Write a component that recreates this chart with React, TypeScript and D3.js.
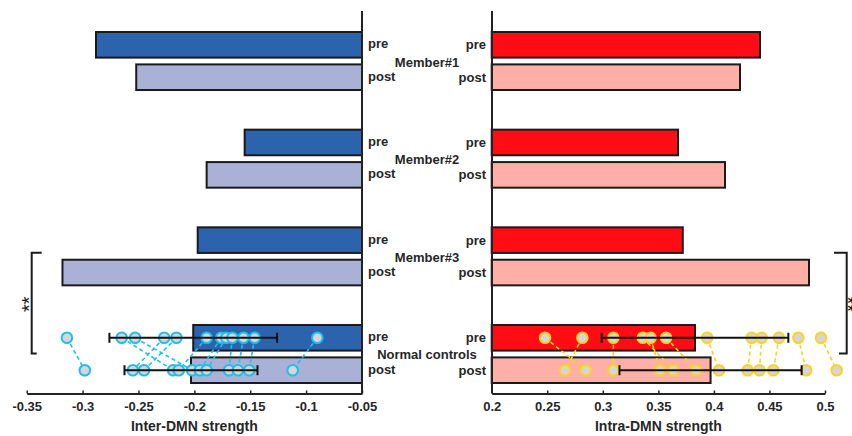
import React, { useRef, useEffect } from 'react';
import * as d3 from 'd3';

const groups = ['Member#1', 'Member#2', 'Member#3', 'Normal controls'];
const conditions = ['pre', 'post'];

// bar values, one per group
const interPre = [-0.288, -0.155, -0.197, -0.201];
const interPost = [-0.252, -0.189, -0.318, -0.203];
const intraPre = [0.4415, 0.3677, 0.372, 0.383];
const intraPost = [0.4235, 0.41, 0.4856, 0.397];

// error bar half widths for normal controls [pre, post]
const interErr = [0.075, 0.0595];
const intraErr = [0.084, 0.082];

// normal controls, one entry per subject
const interSubjPre = [-0.314, -0.265, -0.253, -0.227, -0.216, -0.189, -0.176, -0.1715, -0.166, -0.156, -0.146, -0.09];
const interSubjPost = [-0.298, -0.219, -0.202, -0.255, -0.245, -0.214, -0.195, -0.189, -0.169, -0.161, -0.151, -0.112];
const intraSubjPre = [0.248, 0.2816, 0.3095, 0.336, 0.343, 0.357, 0.394, 0.434, 0.443, 0.4586, 0.476, 0.4964];
const intraSubjPost = [0.2846, 0.266, 0.3095, 0.3635, 0.3515, 0.384, 0.4046, 0.4304, 0.441, 0.4535, 0.483, 0.5105];

const interTicks = [-0.35, -0.3, -0.25, -0.2, -0.15, -0.1, -0.05];
const intraTicks = [0.2, 0.25, 0.3, 0.35, 0.4, 0.45, 0.5];

const FONT = '"Liberation Sans", Arial, sans-serif';
const TEXT = '#262626';

const App = () => {
    const chartRef = useRef(null);

    useEffect(() => {
        const svg = d3.select(chartRef.current);
        svg.selectAll('*').remove();

        const axisY = 393.5;

        // Scales
        const yGroup = d3.scaleBand().domain(groups).range([32, 383]).paddingInner(0.406).paddingOuter(0);
        const yCond = d3.scaleBand().domain(conditions).range([0, yGroup.bandwidth()]).paddingInner(0.21).paddingOuter(0);
        const xInter = d3.scaleLinear().domain([-0.35, -0.05]).range([26.7, 362]);
        const xIntra = d3.scaleLinear().domain([0.2, 0.5]).range([491.7, 825]);

        const drawPanel = (opts) => {
            const { x, base, pre, post, colors, err, subjPre, subjPost, dot, ticks, title, lineX } = opts;
            const g = svg.append('g');

            // Bars
            groups.forEach((grp, i) => {
                [pre[i], post[i]].forEach((v, j) => {
                    g.append('rect')
                        .attr('x', Math.min(x(v), x(base)))
                        .attr('y', yGroup(grp) + yCond(conditions[j]))
                        .attr('width', Math.abs(x(v) - x(base)))
                        .attr('height', yCond.bandwidth())
                        .attr('fill', colors[j])
                        .attr('stroke', '#1a1a1a')
                        .attr('stroke-width', 2);
                });
            });

            // Subject lines + dots for normal controls
            const nc = groups[3];
            const yPre = yGroup(nc) + yCond('pre') + yCond.bandwidth() / 2;
            const yPost = yGroup(nc) + yCond('post') + yCond.bandwidth() / 2;

            subjPre.forEach((v, k) => {
                g.append('line')
                    .attr('x1', x(v)).attr('y1', yPre)
                    .attr('x2', x(subjPost[k])).attr('y2', yPost)
                    .attr('stroke', dot)
                    .attr('stroke-width', 1.6)
                    .attr('stroke-dasharray', '4,3');
            });

            [[subjPre, yPre], [subjPost, yPost]].forEach(([vals, yy]) => {
                g.selectAll(null)
                    .data(vals)
                    .enter().append('circle')
                    .attr('cx', d => x(d))
                    .attr('cy', yy)
                    .attr('r', 5.3)
                    .attr('fill', '#d6d6d6')
                    .attr('stroke', dot)
                    .attr('stroke-width', 2);
            });

            // Error bars
            [pre[3], post[3]].forEach((v, j) => {
                const yy = j === 0 ? yPre : yPost;
                const x1 = x(v - err[j]);
                const x2 = x(v + err[j]);
                g.append('line').attr('x1', x1).attr('x2', x2).attr('y1', yy).attr('y2', yy)
                    .attr('stroke', '#111').attr('stroke-width', 2);
                [x1, x2].forEach(xx => {
                    g.append('line').attr('x1', xx).attr('x2', xx).attr('y1', yy - 5).attr('y2', yy + 5)
                        .attr('stroke', '#111').attr('stroke-width', 2);
                });
            });

            // Vertical axis line
            g.append('line')
                .attr('x1', lineX).attr('x2', lineX)
                .attr('y1', 11).attr('y2', axisY)
                .attr('stroke', '#222').attr('stroke-width', 2);

            // x-axis
            const ax = g.append('g')
                .attr('transform', `translate(0,${axisY})`)
                .call(d3.axisBottom(x).tickValues(ticks).tickSize(-3).tickSizeOuter(0).tickPadding(8)
                    .tickFormat(d => String(+(+d).toFixed(2))));
            ax.select('.domain').attr('stroke', '#222').attr('stroke-width', 2);
            ax.selectAll('.tick line').attr('stroke', '#222').attr('stroke-width', 1.5);
            ax.selectAll('text')
                .attr('font-family', FONT)
                .attr('font-size', 13)
                .attr('font-weight', 'bold')
                .attr('fill', TEXT);

            // x-axis label
            const [r0, r1] = x.range();
            g.append('text')
                .attr('x', (r0 + r1) / 2)
                .attr('y', 431)
                .attr('text-anchor', 'middle')
                .attr('font-family', FONT)
                .attr('font-size', 14)
                .attr('font-weight', 'bold')
                .attr('fill', TEXT)
                .text(title);
        };

        drawPanel({
            x: xInter, base: -0.05, pre: interPre, post: interPost,
            colors: ['#2c63ad', '#aab1d7'], err: interErr,
            subjPre: interSubjPre, subjPost: interSubjPost, dot: '#1cc0ee',
            ticks: interTicks, title: 'Inter-DMN strength', lineX: 362
        });
        drawPanel({
            x: xIntra, base: 0.2, pre: intraPre, post: intraPost,
            colors: ['#ff0c14', '#ffafa8'], err: intraErr,
            subjPre: intraSubjPre, subjPost: intraSubjPost, dot: '#ffd21c',
            ticks: intraTicks, title: 'Intra-DMN strength', lineX: 492
        });

        // Condition labels + group names in the middle
        groups.forEach(grp => {
            conditions.forEach(c => {
                const yy = yGroup(grp) + yCond(c) + yCond.bandwidth() / 2;
                svg.append('text')
                    .attr('x', 368).attr('y', yy - 1)
                    .attr('dominant-baseline', 'central')
                    .attr('font-family', FONT).attr('font-size', 13).attr('font-weight', 'bold')
                    .attr('fill', TEXT)
                    .text(c);
                svg.append('text')
                    .attr('x', 486).attr('y', yy)
                    .attr('text-anchor', 'end')
                    .attr('dominant-baseline', 'central')
                    .attr('font-family', FONT).attr('font-size', 13).attr('font-weight', 'bold')
                    .attr('fill', TEXT)
                    .text(c);
            });
            svg.append('text')
                .attr('x', 427)
                .attr('y', yGroup(grp) + yGroup.bandwidth() / 2 + 1)
                .attr('text-anchor', 'middle')
                .attr('dominant-baseline', 'central')
                .attr('font-family', FONT).attr('font-size', 13).attr('font-weight', 'bold')
                .attr('fill', TEXT)
                .text(grp);
        });

        // Significance brackets
        const bTop = yGroup(groups[2]) + yCond('post') - 8;
        const bBot = yGroup(groups[3]) + yCond('pre') + yCond.bandwidth() + 2;
        const brackets = [
            { x: 31.7, top: 41.7, bot: 36.7, tx: 35.5, rot: -90 },
            { x: 846.7, top: 834, bot: 839, tx: 840.5, rot: 90 }
        ];
        brackets.forEach(b => {
            svg.append('path')
                .attr('d', `M${b.top},${bTop + 1}H${b.x}V${bBot + 1}H${b.bot}`)
                .attr('fill', 'none')
                .attr('stroke', '#1a1a1a')
                .attr('stroke-width', 2);
            const cy = (bTop + bBot) / 2 + 2;
            svg.append('text')
                .attr('transform', `translate(${b.tx},${cy}) rotate(${b.rot})`)
                .attr('text-anchor', 'middle')
                .attr('font-family', FONT)
                .attr('font-size', 20)
                .attr('fill', '#1a1a1a')
                .text('**');
        });
    }, []);

    return (
        <svg
            ref={chartRef}
            width={852}
            height={436}
            style={{ position: 'absolute', left: 0, top: 0, background: '#fff' }}
        />
    );
};

export default App;
